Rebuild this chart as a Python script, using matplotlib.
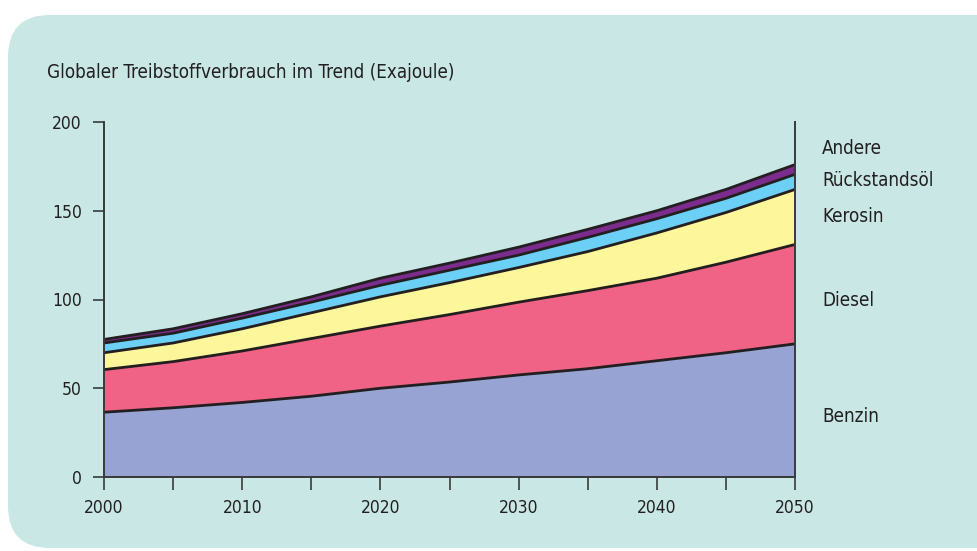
import numpy as np
import matplotlib.pyplot as plt
from matplotlib.patches import FancyBboxPatch

plt.rcParams['font.family'] = ['DejaVu Sans']
plt.rcParams['font.stretch'] = 'condensed'

# data (Exajoule)
jahre = [2000, 2005, 2010, 2015, 2020, 2025, 2030, 2035, 2040, 2045, 2050]
benzin = [36.5, 39, 42, 45.5, 50, 53.5, 57.5, 61, 65.5, 70, 75]
diesel = [24, 26, 29, 32.5, 35, 38, 41, 44, 46.5, 51, 56]
kerosin = [9.5, 10.5, 12.5, 14.5, 16.5, 18, 19.5, 22, 25.5, 28, 31]
rueckstandsoel = [5.5, 5.5, 6, 6, 6.5, 7, 7, 8, 8, 8, 8.5]
andere = [2, 2.5, 2.5, 3, 4, 4, 4.5, 4.5, 4.5, 5, 5.5]
namen = ['Benzin', 'Diesel', 'Kerosin', 'Rückstandsöl', 'Andere']
farben = ['#96a3d3', '#f06386', '#fef69b', '#6ccff6', '#7c2c8c']

txt = '#231f20'
fig = plt.figure(figsize=(9.78, 5.51), dpi=100)
fig.patch.set_facecolor('white')

# rounded panel behind everything, in pixel coordinates
bgax = fig.add_axes([0, 0, 1, 1], zorder=-1)
bgax.set_xlim(0, 978)
bgax.set_ylim(551, 0)
bgax.axis('off')
bgax.add_patch(FancyBboxPatch((8, 15), 1100, 533,
                              boxstyle='round,pad=0,rounding_size=42',
                              facecolor='#c9e8e5', edgecolor='none'))

ax = fig.add_axes([104 / 978, 74 / 551, 691 / 978, 355 / 551])
ax.set_facecolor('none')

x = np.array(jahre)
serien = [benzin, diesel, kerosin, rueckstandsoel, andere]
unten = np.zeros(len(x))
for werte, farbe in zip(serien, farben):
    oben = unten + np.array(werte)
    ax.fill_between(x, unten, oben, facecolor=farbe, edgecolor='none', zorder=1)
    unten = oben
# boundary lines
unten = np.zeros(len(x))
for werte in serien:
    oben = unten + np.array(werte)
    ax.plot(x, oben, color='#231f20', lw=2.0, zorder=3, solid_capstyle='butt')
    unten = oben

ax.set_xlim(2000, 2050)
ax.set_ylim(0, 200)
ax.set_xticks(range(2000, 2051, 5))
ax.set_xticklabels([str(j) if j % 10 == 0 else '' for j in range(2000, 2051, 5)])
ax.set_yticks([0, 50, 100, 150, 200])

ax.spines['top'].set_visible(False)
for s in ['left', 'right', 'bottom']:
    ax.spines[s].set_color('#3a3a3a')
    ax.spines[s].set_linewidth(1.4)
    ax.spines[s].set_zorder(4)
ax.tick_params(axis='x', direction='out', length=9, width=1.2, color='#3a3a3a',
               labelsize=12.5, labelcolor=txt, pad=7)
ax.tick_params(axis='y', direction='out', length=8, width=1.2, color='#3a3a3a',
               labelsize=12.5, labelcolor=txt, pad=8)

fig.text(47 / 978, 1 - 72 / 551, 'Globaler Treibstoffverbrauch im Trend (Exajoule)',
         fontsize=13.5, color=txt, va='center', ha='left')

label_y = [417, 300, 217, 181, 148]
for name, yy in zip(namen, label_y):
    fig.text(822 / 978, 1 - yy / 551, name, fontsize=13.5, color=txt,
             va='center', ha='left')

fig.savefig('out.png', dpi=100, facecolor='white')
